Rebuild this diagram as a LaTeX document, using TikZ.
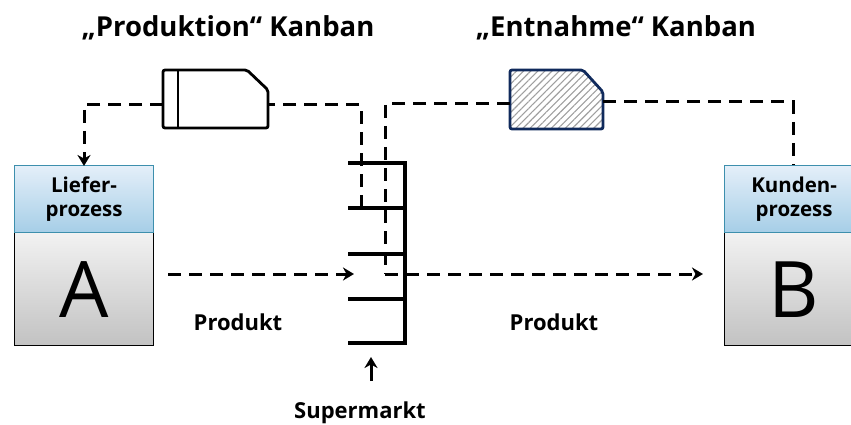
\documentclass[tikz,border=0pt]{standalone}
\usepackage{fontspec}
\setmainfont{Open Sans}
\usetikzlibrary{arrows.meta,patterns.meta,calc}
\definecolor{hdtop}{HTML}{E4EFF9}
\definecolor{hdbot}{HTML}{A6CEE7}
\definecolor{hdline}{HTML}{3D8FAD}
\definecolor{bdtop}{HTML}{F2F2F2}
\definecolor{bdbot}{HTML}{C2C2C2}
\definecolor{navy}{HTML}{102A5C}
\tikzset{
  flow/.style={line width=3pt, dash pattern=on 13pt off 8pt},
  headarrow/.style={arrows={-Stealth[length=11pt,width=13pt,inset=3.5pt]}},
  shelf/.style={line width=3.2pt},
  kanbanline/.style={line width=2.8pt, rounded corners=2pt},
  header/.style={draw=hdline, line width=1.2pt, top color=hdtop, bottom color=hdbot,
    minimum width=139pt, minimum height=67pt, anchor=north west, inner sep=0pt,
    align=center, font=\bfseries\fontsize{20.5}{23.5}\selectfont},
  body/.style={draw=black, line width=1.4pt, top color=bdtop, bottom color=bdbot,
    minimum width=139pt, minimum height=113pt, anchor=north west, inner sep=0pt,
    font=\fontsize{78}{78}\selectfont},
  label/.style={font=\bfseries\fontsize{22}{26}\selectfont, inner sep=0pt},
  title/.style={font=\bfseries\fontsize{27.5}{32}\selectfont, inner sep=0pt},
}
\begin{document}
\begin{tikzpicture}[x=1pt,y=-1pt]
\useasboundingbox (0,0) rectangle (851,425);
\clip (0,0) rectangle (851,425);

% titles
\node[title] (t1) at (228,28) {„Produktion“ Kanban};
\node[title] (t2) at (616,28) {„Entnahme“ Kanban};

% supplier process A
\node[body] (Abody) at (14,232) {A};
\node[header] (Ahead) at (14,165) {Liefer-\\prozess};

% customer process B
\node[body] (Bbody) at (724,232) {B};
\node[header] (Bhead) at (724,165) {Kunden-\\prozess};

% production kanban card
\draw[kanbanline, fill=white] (163,70) -- (247,70) -- (268,90) -- (268,128) -- (163,128) -- cycle;
\draw[line width=2.8pt] (178,70) -- (178,128);
\coordinate (k1w) at (163,105);
\coordinate (k1e) at (268,105);

% withdrawal kanban card
\fill[pattern={Lines[angle=45,distance=5pt,line width=1.1pt]}, pattern color=gray!75]
  (510,70) -- (583,70) -- (603,92) -- (603,129) -- (510,129) -- cycle;
\draw[kanbanline, draw=navy] (510,70) -- (583,70) -- (603,92) -- (603,129) -- (510,129) -- cycle;
\coordinate (k2w) at (510,104);
\coordinate (k2e) at (603,102);

% supermarket shelves
\draw[shelf] (348,163) -- (405,163) -- (405,343) -- (348,343);
\foreach \y in {208,254,299} \draw[shelf] (348,\y) -- (405,\y);
\coordinate (sm1) at (361,208);
\coordinate (sm2) at (385,274);
\coordinate (smin) at (354,274);

% product flows
\coordinate (aout) at (168,274);
\coordinate (bin) at (703,274);
\draw[flow, headarrow] (aout) -- (smin);

% kanban loops
\draw[flow] (sm1) -- (361,105) -- (k1e);
\draw[flow, headarrow] (k1w) -| ([yshift=-1pt]Ahead.north -| 84,0);
\draw[flow] (k2w) -| (sm2);
\draw[flow, headarrow] (sm2) -- (bin);
\draw[flow] (k2e) -| (Bhead.north -| 793,0);

% labels
\node[label] (p1) at (238,322) {Produkt};
\node[label] (p2) at (554,322) {Produkt};
\node[label] (sup) at (360,413) {Supermarkt};
\coordinate (supup) at (371,381);
\draw[line width=3pt, headarrow] (supup) -- (371,357);
\end{tikzpicture}
\end{document}
